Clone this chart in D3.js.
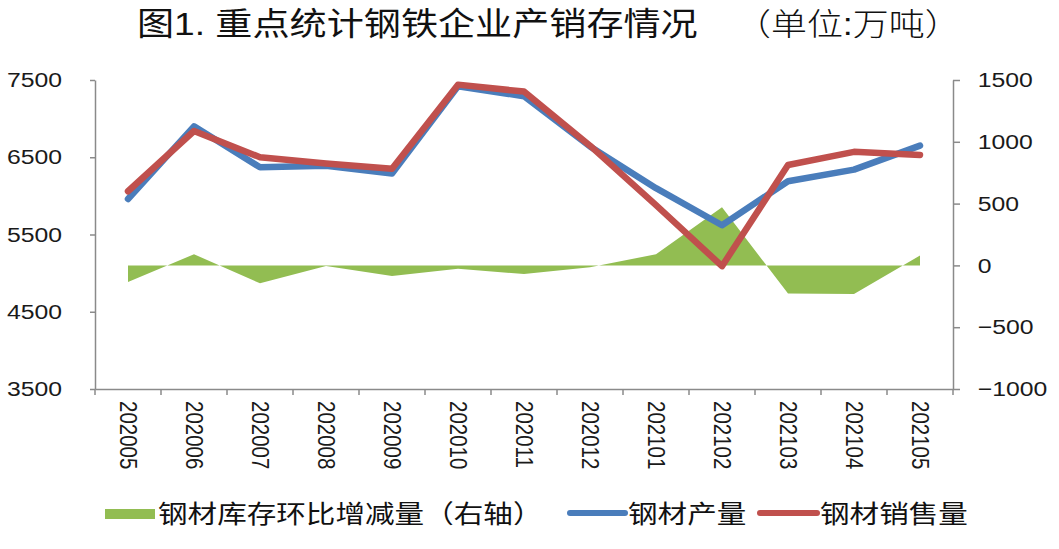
<!DOCTYPE html>
<html>
<head>
<meta charset="utf-8">
<script src="https://cdn.jsdelivr.net/npm/d3@7"></script>
<style>
  html, body { margin: 0; padding: 0; background: #fff; }
  svg { display: block; }
  .axis path, .axis line { stroke: #8a8a8a; stroke-width: 1.5; }
  .axis text { font-family: "Liberation Sans", Arial, sans-serif; fill: #1a1a1a; }
  .cjk { font-family: "Noto Sans CJK SC", sans-serif; fill: #111; }
  .title { font-family: "Liberation Sans", "Noto Sans CJK SC", sans-serif; fill: #111; }
</style>
</head>
<body>
<div id="chart"></div>
<script>
// data (万吨)
const months = ["202005", "202006", "202007", "202008", "202009", "202010", "202011",
                "202012", "202101", "202102", "202103", "202104", "202105"]
const output = [5960, 6900, 6370, 6390, 6290, 7420, 7290, 6640, 6100, 5620, 6190, 6340, 6650]
const sales = [6060, 6840, 6500, 6420, 6350, 7440, 7350, 6650, 5880, 5090, 6400, 6570, 6530]
const stockChange = [-135, 90, -145, -5, -85, -28, -70, -15, 90, 470, -228, -232, 80]
const leftTicks = [3500, 4500, 5500, 6500, 7500]
const rightTicks = [-1000, -500, 0, 500, 1000, 1500]

const W = 1059, H = 549
const SX = 1.18   // the source picture is stretched sideways a bit
const colors = { stock: "#92bd52", output: "#4a7dbb", sales: "#c0504d" }

const svg = d3.select("#chart").append("svg")
  .attr("width", W).attr("height", H)

const x = d3.scaleBand().domain(months).range([95, 953])
const cx = m => x(m) + x.bandwidth() / 2
const yL = d3.scaleLinear().domain([3500, 7500]).range([389, 80])
const yR = d3.scaleLinear().domain([-1000, 1500]).range([389, 80])

// title
svg.append("g").attr("transform", `translate(137,35) scale(1.16,1)`)
  .append("text").attr("class", "title").attr("font-size", 32)
  .text("图1. 重点统计钢铁企业产销存情况")
svg.append("g").attr("transform", `translate(735,35) scale(1.16,1)`)
  .append("text").attr("class", "title").attr("font-size", 31).attr("font-weight", 300)
  .text("（单位:万吨）")

// inventory change area, right axis
svg.append("path")
  .datum(months.map((m, i) => [cx(m), stockChange[i]]))
  .attr("fill", colors.stock)
  .attr("d", d3.area().x(d => d[0]).y0(yR(0)).y1(d => yR(d[1])))

// lines, left axis
const line = d3.line().x((d, i) => cx(months[i])).y(d => yL(d))
;[[output, colors.output], [sales, colors.sales]].forEach(([vals, c]) => {
  svg.append("path").datum(vals)
    .attr("fill", "none").attr("stroke", c).attr("stroke-width", 6.5)
    .attr("stroke-linejoin", "round").attr("stroke-linecap", "round")
    .attr("d", line)
})

// axes
const fmt = d3.format("d")
const gl = svg.append("g").attr("class", "axis").attr("transform", "translate(95,0)")
  .call(d3.axisLeft(yL).tickValues(leftTicks).tickFormat(fmt)
    .tickSize(5).tickPadding(23).tickSizeOuter(0))
gl.selectAll("text").attr("font-size", 21).attr("transform", `scale(${SX},1)`)

const gr = svg.append("g").attr("class", "axis").attr("transform", "translate(953,0)")
  .call(d3.axisRight(yR).tickValues(rightTicks).tickFormat(fmt)
    .tickSize(7).tickPadding(14).tickSizeOuter(0))
gr.selectAll("text").attr("font-size", 21).attr("transform", `scale(${SX},1)`)

const gx = svg.append("g").attr("class", "axis").attr("transform", "translate(0,389)")
  .call(d3.axisBottom(x).tickSize(0).tickSizeOuter(0))
gx.selectAll("text")
  .attr("font-size", 20.5)
  .attr("text-anchor", "start")
  .attr("x", 12).attr("y", 0).attr("dy", "0.35em")
  .attr("transform", `scale(${SX},1) rotate(90)`)
// ticks sit on the category boundaries
gx.selectAll(".edge")
  .data(months.map(m => x(m)).concat([x.range()[1]]))
  .join("line").attr("class", "edge")
  .attr("x1", d => d).attr("x2", d => d).attr("y1", 0).attr("y2", 6)

// legend
const lg = svg.append("g")
lg.append("rect").attr("x", 105).attr("y", 509).attr("width", 50).attr("height", 10)
  .attr("fill", colors.stock)
const legendItems = [
  { label: "钢材库存环比增减量（右轴）", x: 158 },
  { label: "钢材产量", x: 628, line: [570, 625], c: colors.output },
  { label: "钢材销售量", x: 820, line: [760, 817], c: colors.sales }
]
legendItems.forEach(d => {
  if (d.line) {
    lg.append("line").attr("x1", d.line[0]).attr("x2", d.line[1])
      .attr("y1", 513).attr("y2", 513)
      .attr("stroke", d.c).attr("stroke-width", 6).attr("stroke-linecap", "round")
  }
  lg.append("g").attr("transform", `translate(${d.x},523) scale(1.16,1)`)
    .append("text").attr("class", "cjk").attr("font-size", 25.5).text(d.label)
})
</script>
</body>
</html>
